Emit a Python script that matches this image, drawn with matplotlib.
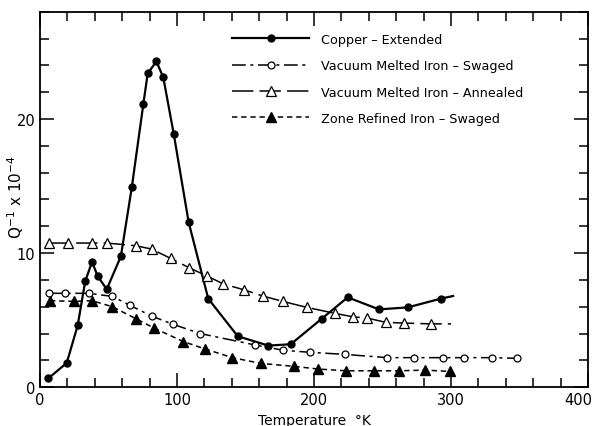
##################################
# Internal friction vs temperature, copper and iron samples
###################################

import matplotlib
matplotlib.use("Agg")
import matplotlib.pyplot as plt
import matplotlib.transforms as mtransforms
from matplotlib.ticker import MultipleLocator

# Copper - Extended (last value is the line end, no marker)
cu_T = [6, 19.5, 27.5, 33, 38, 42, 48.7, 59, 67, 75.4, 78.6, 85, 90, 97.6,
        108.5, 122.8, 144.3, 166.6, 183, 205.6, 224.6, 247.4, 268.4, 292.5, 301.5]
cu_Q = [0.65, 1.8, 4.6, 7.9, 9.35, 8.3, 7.3, 9.75, 14.9, 21.1, 23.4, 24.3, 23.1, 18.9,
        12.3, 6.6, 3.8, 3.1, 3.2, 5.1, 6.7, 5.8, 5.95, 6.6, 6.8]

# Vacuum Melted Iron - Swaged
vs_T = [6.8, 18.5, 35.5, 52.8, 65.7, 81.5, 96.8, 116.8, 156.9, 177.6,
        197, 222.9, 253.5, 273, 293.9, 309.7, 329.9, 348]
vs_Q = [7.0, 7.0, 7.0, 6.77, 6.1, 5.3, 4.7, 4.0, 3.15, 2.75,
        2.6, 2.44, 2.2, 2.2, 2.2, 2.2, 2.2, 2.15]

# Vacuum Melted Iron - Annealed (last value is the line end, no marker)
va_T = [6.3, 20.2, 38, 48.7, 69.9, 81.5, 95.4, 109, 121.7, 133.8, 148.9, 162.5,
        177.1, 194.7, 215.6, 228.2, 238.9, 252.6, 265.7, 285.2, 300]
va_Q = [10.75, 10.75, 10.75, 10.75, 10.55, 10.3, 9.6, 8.9, 8.3, 7.7, 7.26, 6.8,
        6.4, 5.95, 5.5, 5.25, 5.15, 4.83, 4.78, 4.72, 4.72]

# Zone Refined Iron - Swaged
zr_T = [7.3, 24.8, 38, 52.8, 70.1, 83.4, 104.6, 120.4, 140.4, 161.3, 185.4,
        203.2, 223.4, 243.8, 262.3, 281.2, 299.3]
zr_Q = [6.45, 6.4, 6.45, 6.0, 5.1, 4.4, 3.4, 2.85, 2.2, 1.77, 1.55,
        1.35, 1.22, 1.22, 1.22, 1.27, 1.17]

x_ticks = [0, 100, 200, 300, 400]
x_ticklabels = ['0', '100', '200', '300', '400']
labels = ["Copper – Extended", "Vacuum Melted Iron – Swaged",
          "Vacuum Melted Iron – Annealed", "Zone Refined Iron – Swaged"]

plt.rcParams['font.family'] = ['DejaVu Sans']

fig = plt.figure(figsize=(5.97, 4.27), dpi=100)
ax = fig.add_axes([0.067, 0.091, 0.918, 0.879])

ax.plot(cu_T, cu_Q, color='black', lw=1.6, marker='o', ms=5,
        markevery=list(range(len(cu_T) - 1)), label=labels[0])
ax.plot(vs_T, vs_Q, color='black', lw=1.1, dashes=(9, 3, 2, 3), marker='o', ms=5,
        mfc='white', mew=0.9, label=labels[1])
ax.plot(va_T, va_Q, color='black', lw=1.1, dashes=(14, 4), marker='^', ms=7,
        mfc='white', mew=0.9, markevery=list(range(len(va_T) - 1)), label=labels[2])
ax.plot(zr_T, zr_Q, color='black', lw=1.1, dashes=(3.5, 2.5), marker='^', ms=7,
        label=labels[3])

ax.set_xlim(0, 400)
ax.set_ylim(0, 28)
ax.set_xticks(x_ticks, labels=x_ticklabels)
ax.xaxis.set_minor_locator(MultipleLocator(20))
ax.yaxis.set_major_locator(MultipleLocator(10))
ax.yaxis.set_minor_locator(MultipleLocator(2))
ax.tick_params(which='both', direction='in', top=True, right=True, width=1.1)
ax.tick_params(which='major', length=10, labelsize=10.5)
ax.tick_params(which='minor', length=6.5)
for s in ax.spines.values():
    s.set_linewidth(1.3)

# keep the "400" label inside the figure
fig.canvas.draw()
for tick in ax.xaxis.get_major_ticks():
    if tick.label1.get_text() == '400':
        tick.label1.set_horizontalalignment('right')
        tick.label1.set_transform(tick.label1.get_transform() +
                                  mtransforms.ScaledTranslation(3 / 72, 0, fig.dpi_scale_trans))

ax.set_xlabel('Temperature  °K', fontsize=10, labelpad=4)
ax.set_ylabel('Q$^{-1}$ x 10$^{-4}$', fontsize=11)
ax.yaxis.set_label_coords(-0.026, 0.51)

ax.legend(loc='upper left', bbox_to_anchor=(0.33, 0.975), frameon=False,
          fontsize=9.2, handlelength=6, labelspacing=1.05, handletextpad=0.9)

plt.savefig('out.png', dpi=100)
